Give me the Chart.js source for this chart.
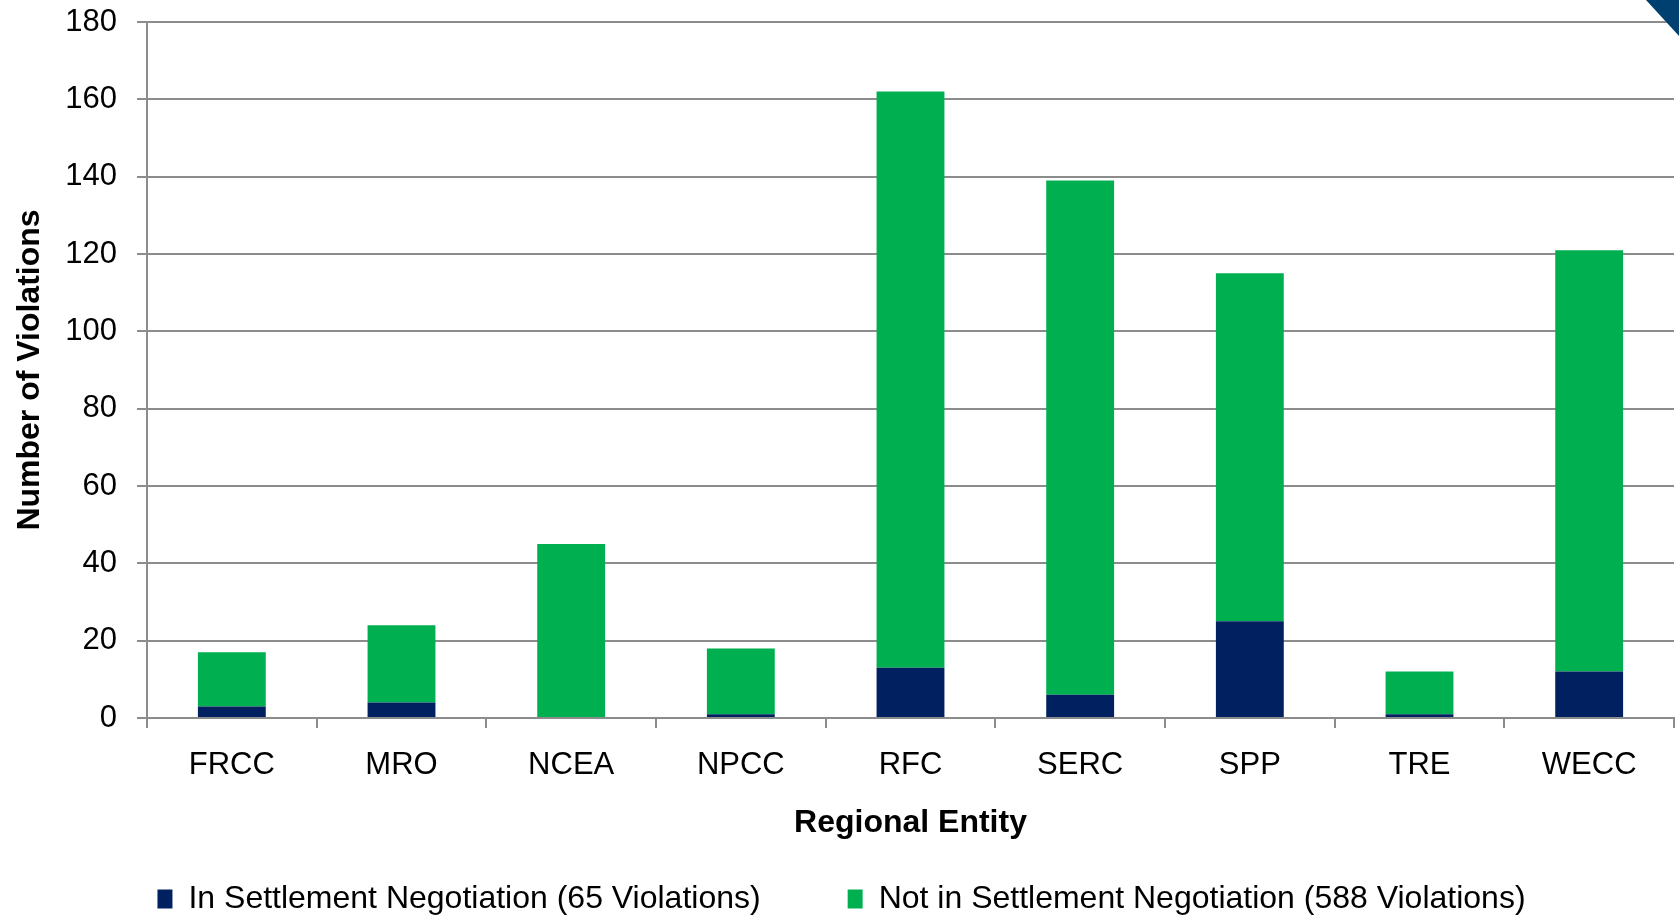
<!DOCTYPE html>
<html>
<head>
<meta charset="utf-8">
<script src="https://cdn.jsdelivr.net/npm/chart.js@4"></script>
<style>
  html, body { margin: 0; padding: 0; background: #ffffff; }
  #wrap { position: relative; width: 1679px; height: 917px; overflow: hidden; }
  #corner { position: absolute; top: 0; right: 0; width: 33px; height: 36px; background: #004070;
            clip-path: polygon(0 0, 100% 0, 100% 100%); }
</style>
</head>
<body>
<div id="wrap">
  <canvas id="c" width="1679" height="917"></canvas>
  <div id="corner"></div>
</div>
<script>
const categories = ['FRCC', 'MRO', 'NCEA', 'NPCC', 'RFC', 'SERC', 'SPP', 'TRE', 'WECC'];
const inSettlement = [3, 4, 0, 1, 13, 6, 25, 1, 12];
const notInSettlement = [14, 20, 45, 17, 149, 133, 90, 11, 109];
const seriesNames = ['In Settlement Negotiation (65 Violations)', 'Not in Settlement Negotiation (588 Violations)'];
const yMin = 0, yMax = 180, yStep = 20;
const xTitle = 'Regional Entity';
const yTitle = 'Number of Violations';

const FONT = "'Liberation Sans', Arial, sans-serif";
const GRID = '#8c8c8c';

new Chart(document.getElementById('c'), {
  type: 'bar',
  data: {
    labels: categories,
    datasets: [
      { label: seriesNames[0], data: inSettlement, backgroundColor: '#002060', borderWidth: 0,
        barPercentage: 0.4, categoryPercentage: 1.0 },
      { label: seriesNames[1], data: notInSettlement, backgroundColor: '#00B050', borderWidth: 0,
        barPercentage: 0.4, categoryPercentage: 1.0 }
    ]
  },
  options: {
    responsive: false,
    animation: false,
    devicePixelRatio: 1,
    layout: { padding: { top: 22, right: 5, left: 9, bottom: 0 } },
    plugins: {
      tooltip: { enabled: false },
      legend: {
        position: 'bottom',
        maxHeight: 121,
        labels: {
          color: '#000000',
          font: { family: FONT, size: 32 },
          boxWidth: 15,
          boxHeight: 19,
          padding: 87
        }
      }
    },
    scales: {
      x: {
        stacked: true,
        afterFit: (s) => { s.height = 78; },
        grid: { display: true, drawOnChartArea: false, drawTicks: true, tickLength: 10,
                color: GRID, lineWidth: 2, offset: true },
        border: { display: true, color: GRID, width: 2 },
        ticks: { color: '#000000', font: { family: FONT, size: 31 }, padding: 19, maxRotation: 0 },
        title: { display: true, text: xTitle, color: '#000000',
                 font: { family: FONT, size: 32, weight: 'bold' },
                 padding: { top: 0, bottom: -46 } }
      },
      y: {
        stacked: true,
        min: yMin, max: yMax,
        afterFit: (s) => { s.width = 138; s.paddingTop = 0; s.paddingBottom = 0; },
        grid: { color: GRID, lineWidth: 2, drawTicks: true, tickLength: 10 },
        border: { display: true, color: GRID, width: 2 },
        ticks: { stepSize: yStep, color: '#000000', font: { family: FONT, size: 31 }, padding: 20 },
        title: { display: true, text: yTitle, color: '#000000',
                 font: { family: FONT, size: 32, weight: 'bold' },
                 padding: { top: 2, bottom: 0 } }
      }
    }
  }
});
</script>
</body>
</html>
